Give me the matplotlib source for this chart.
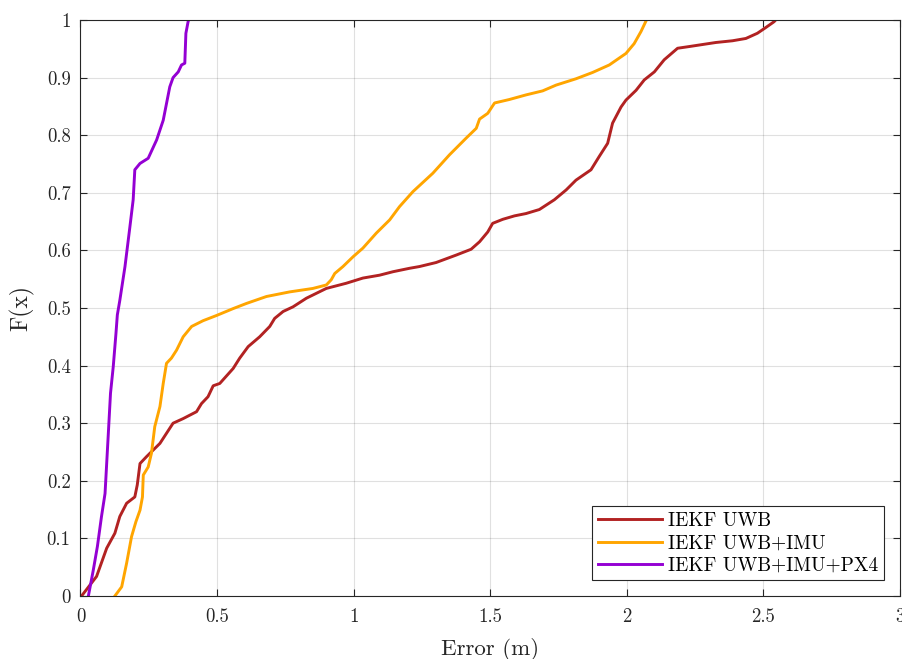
import matplotlib
matplotlib.use("Agg")
import matplotlib.pyplot as plt

plt.rcParams['font.family'] = ['cmr10', 'DejaVu Serif']
plt.rcParams['mathtext.fontset'] = 'cm'
plt.rcParams['axes.formatter.use_mathtext'] = True

# IEKF UWB
uwb_x = [0.004, 0.059, 0.096, 0.126, 0.144, 0.169, 0.199, 0.208, 0.218, 0.242, 0.291, 0.339,
         0.376, 0.425, 0.443, 0.467, 0.486, 0.510, 0.559, 0.583, 0.614, 0.656, 0.693, 0.711,
         0.742, 0.778, 0.827, 0.900, 0.973, 1.034, 1.095, 1.144, 1.205, 1.241, 1.302, 1.376,
         1.430, 1.461, 1.491, 1.509, 1.546, 1.589, 1.631, 1.680, 1.735, 1.778, 1.814, 1.869,
         1.899, 1.930, 1.948, 1.979, 1.997, 2.034, 2.064, 2.101, 2.137, 2.186, 2.229, 2.326,
         2.387, 2.436, 2.478, 2.509, 2.539, 2.545]
uwb_y = [0.000, 0.034, 0.083, 0.109, 0.138, 0.161, 0.172, 0.193, 0.230, 0.242, 0.265, 0.300,
         0.308, 0.320, 0.334, 0.346, 0.365, 0.369, 0.395, 0.413, 0.433, 0.450, 0.468, 0.482,
         0.494, 0.502, 0.517, 0.534, 0.543, 0.552, 0.557, 0.563, 0.569, 0.572, 0.579, 0.592,
         0.602, 0.615, 0.632, 0.647, 0.654, 0.660, 0.664, 0.671, 0.688, 0.705, 0.722, 0.740,
         0.763, 0.786, 0.821, 0.849, 0.861, 0.878, 0.896, 0.910, 0.931, 0.951, 0.954, 0.961,
         0.964, 0.968, 0.977, 0.987, 0.997, 1.000]

# IEKF UWB+IMU
imu_x = [0.126, 0.151, 0.169, 0.187, 0.203, 0.218, 0.227, 0.230, 0.248, 0.260, 0.272, 0.291,
         0.303, 0.315, 0.333, 0.352, 0.376, 0.407, 0.449, 0.498, 0.559, 0.608, 0.681, 0.766,
         0.851, 0.900, 0.918, 0.931, 0.961, 0.998, 1.034, 1.083, 1.132, 1.168, 1.217, 1.290,
         1.351, 1.412, 1.449, 1.461, 1.491, 1.516, 1.570, 1.631, 1.692, 1.741, 1.814, 1.875,
         1.936, 1.997, 2.027, 2.052, 2.072]
imu_y = [0.000, 0.016, 0.057, 0.103, 0.129, 0.149, 0.172, 0.210, 0.224, 0.248, 0.294, 0.329,
         0.369, 0.404, 0.413, 0.427, 0.450, 0.468, 0.478, 0.487, 0.499, 0.508, 0.520, 0.528,
         0.534, 0.540, 0.549, 0.560, 0.572, 0.589, 0.604, 0.630, 0.653, 0.676, 0.702, 0.734,
         0.766, 0.795, 0.812, 0.828, 0.838, 0.856, 0.862, 0.870, 0.877, 0.887, 0.898, 0.909,
         0.922, 0.942, 0.959, 0.980, 1.000]

# IEKF UWB+IMU+PX4
px4_x = [0.029, 0.047, 0.062, 0.077, 0.090, 0.102, 0.110, 0.120, 0.130, 0.135, 0.144, 0.163,
         0.181, 0.193, 0.199, 0.218, 0.248, 0.279, 0.303, 0.327, 0.339, 0.358, 0.370, 0.382,
         0.386, 0.394, 0.396]
px4_y = [0.000, 0.045, 0.086, 0.138, 0.178, 0.282, 0.352, 0.398, 0.456, 0.488, 0.513, 0.572,
         0.641, 0.688, 0.740, 0.751, 0.760, 0.792, 0.826, 0.884, 0.900, 0.910, 0.922, 0.925,
         0.977, 0.997, 1.000]

series_labels = ["IEKF UWB", "IEKF UWB+IMU", "IEKF UWB+IMU+PX4"]
series_colors = ["#B22222", "#FFA500", "#9400D3"]

x_ticks = [0, 0.5, 1, 1.5, 2, 2.5, 3]
x_ticklabels = ["0", "0.5", "1", "1.5", "2", "2.5", "3"]
y_ticks = [0, 0.1, 0.2, 0.3, 0.4, 0.5, 0.6, 0.7, 0.8, 0.9, 1.0]
y_ticklabels = ["0", "0.1", "0.2", "0.3", "0.4", "0.5", "0.6", "0.7", "0.8", "0.9", "1"]

fig = plt.figure(figsize=(9.03, 6.59), dpi=100)
ax = fig.add_axes([0.0891, 0.0956, 0.9075, 0.874])

for xs, ys, lab, col in zip([uwb_x, imu_x, px4_x], [uwb_y, imu_y, px4_y], series_labels, series_colors):
    ax.plot(xs, ys, color=col, lw=2.1, label=lab)

ax.set_xlim(0, 3)
ax.set_ylim(0, 1)
ax.set_xticks(x_ticks)
ax.set_xticklabels(x_ticklabels)
ax.set_yticks(y_ticks)
ax.set_yticklabels(y_ticklabels)
ax.tick_params(direction='in', top=True, right=True, length=5, width=0.8,
               labelsize=13.5, colors='#262626')
ax.tick_params(axis='x', pad=9)
ax.tick_params(axis='y', pad=7)
for sp in ax.spines.values():
    sp.set_color('#262626')
    sp.set_linewidth(0.8)
ax.grid(True, color='#000000', alpha=0.12, lw=0.8)
ax.set_axisbelow(True)
ax.set_xlabel("Error (m)", fontsize=16.5, color='#262626', labelpad=8)
ax.set_ylabel("F(x)", fontsize=17, color='#262626', labelpad=9)

leg = ax.legend(loc='lower right', fontsize=14, frameon=True, fancybox=False,
                edgecolor='#262626', framealpha=1, handlelength=3.3, handletextpad=0.3,
                borderpad=0.3, labelspacing=0.22, borderaxespad=0.8)
leg.get_frame().set_linewidth(0.8)

fig.savefig("out.png", dpi=100)
